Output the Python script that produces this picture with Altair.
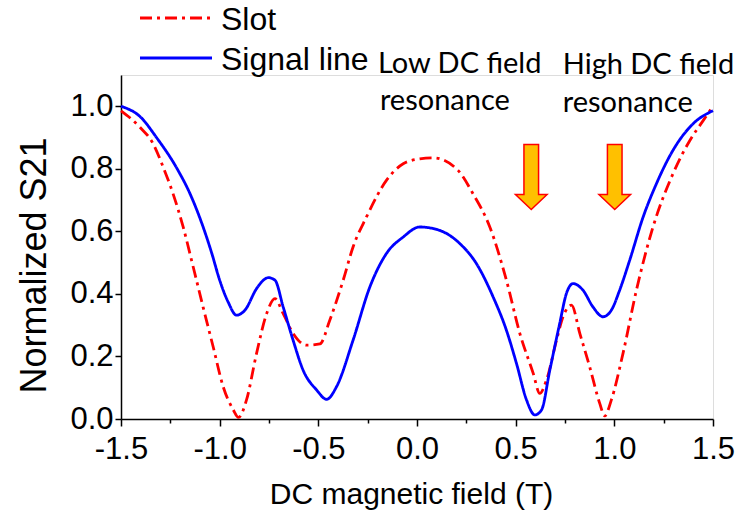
import altair as alt
import pandas as pd

# ---- data ----
slot_x = [-1.5, -1.404, -1.337, -1.286, -1.236, -1.185, -1.134, -1.084, -1.033, -0.982, -0.931, -0.905,
          -0.864, -0.813, -0.762, -0.72, -0.678, -0.628, -0.56, -0.492, -0.442, -0.374, -0.324, -0.256,
          -0.155, -0.07, 0.014, 0.082, 0.208, 0.284, 0.369, 0.453, 0.521, 0.589, 0.622, 0.656, 0.707,
          0.74, 0.783, 0.825, 0.875, 0.926, 0.951, 0.985, 1.044, 1.112, 1.196, 1.297, 1.382, 1.45, 1.5]
slot_y = [0.985, 0.933, 0.88, 0.805, 0.72, 0.614, 0.486, 0.358, 0.231, 0.103, 0.029, 0.005,
          0.061, 0.21, 0.337, 0.385, 0.337, 0.274, 0.236, 0.24, 0.316, 0.444, 0.55, 0.646,
          0.763, 0.816, 0.832, 0.835, 0.795, 0.72, 0.614, 0.444, 0.274, 0.146, 0.082, 0.124, 0.252,
          0.327, 0.364, 0.274, 0.167, 0.05, 0.01, 0.061, 0.21, 0.412, 0.614, 0.784, 0.89, 0.954, 1.0]

sig_x = [-1.5, -1.40, -1.32, -1.22, -1.15, -1.09, -1.04, -1.0, -0.957, -0.915, -0.872, -0.813, -0.77,
         -0.754, -0.72, -0.678, -0.628, -0.577, -0.509, -0.458, -0.408, -0.324, -0.239, -0.155, -0.07,
         0.014, 0.115, 0.217, 0.301, 0.386, 0.453, 0.504, 0.555, 0.597, 0.631, 0.673, 0.723, 0.757,
         0.791, 0.841, 0.892, 0.943, 0.985, 1.027, 1.078, 1.146, 1.213, 1.297, 1.399, 1.5]
sig_y = [1.0, 0.965, 0.90, 0.805, 0.72, 0.625, 0.53, 0.444, 0.374, 0.332, 0.348, 0.417, 0.448,
         0.452, 0.444, 0.358, 0.252, 0.156, 0.093, 0.063, 0.103, 0.252, 0.422, 0.529, 0.582,
         0.614, 0.603, 0.561, 0.497, 0.39, 0.284, 0.178, 0.061, 0.013, 0.029, 0.156, 0.305, 0.401,
         0.433, 0.412, 0.358, 0.327, 0.348, 0.412, 0.508, 0.646, 0.752, 0.859, 0.944, 0.986]

series_names = ["Slot", "Signal line"]
series_colors = ["#ff0000", "#0000ff"]
series_dash = [[12, 5, 3, 5], [1, 0]]

arrow_x = [0.579, 1.002]
arrow_y = [0.774, 0.774]

ann_text = ["Low DC field", "resonance", "High DC field", "resonance"]
ann_x = [-0.198, -0.188, 0.7386, 0.7386]
ann_y = [1.1076, 0.9895, 1.1044, 0.983]

x_ticks = [-1.5 + 0.25 * i for i in range(13)]
y_ticks = [round(0.1 * i, 1) for i in range(12)]

# ---- tables ----
df = pd.concat([
    pd.DataFrame({"B": slot_x, "S21": slot_y, "series": "Slot"}),
    pd.DataFrame({"B": sig_x, "S21": sig_y, "series": "Signal line"}),
], ignore_index=True)
df_arrow = pd.DataFrame({"B": arrow_x, "S21": arrow_y})
df_ann = pd.DataFrame({"B": ann_x, "S21": ann_y, "t": ann_text})

FONT = "Liberation Sans"

x_scale = alt.Scale(domain=[-1.5, 1.5], nice=False, zero=False)
y_scale = alt.Scale(domain=[0, 1.1], nice=False, zero=False)

x_axis = alt.Axis(
    values=x_ticks,
    labelExpr="round(datum.value*4) % 2 == 0 ? (datum.value < 0 ? '-' : '') + format(abs(datum.value), '.1f') : ''",
    tickSize={"condition": {"test": "round(datum.value*4) % 2 == 0", "value": 7}, "value": 4},
    labelFlush=False, labelOverlap=False, labelBound=False,
    labelFont=FONT, labelFontSize=31, labelColor="black", labelPadding=8,
    title="DC magnetic field (T)", titleFont=FONT, titleFontSize=30, titleFontWeight="normal",
    titleColor="black", titleX=290, titleY=84, titleAlign="center", titleBaseline="alphabetic",
    grid=False, domainColor="black", domainWidth=1.5, tickColor="black", tickWidth=1.5,
)
y_axis = alt.Axis(
    values=y_ticks,
    labelExpr="round(datum.value*10) % 2 == 0 ? format(datum.value, '.1f') : ''",
    tickSize={"condition": {"test": "round(datum.value*10) % 2 == 0", "value": 6}, "value": 3.5},
    labelFlush=False, labelOverlap=False, labelBound=False,
    labelFont=FONT, labelFontSize=31, labelColor="black", labelPadding=2,
    title="Normalized S21", titleFont=FONT, titleFontSize=36, titleFontWeight="normal",
    titleColor="black", titleAngle=270, titleX=-76, titleY=190, titleAlign="center",
    titleBaseline="alphabetic",
    grid=False, domainColor="black", domainWidth=1.5, tickColor="black", tickWidth=1.5,
)

lines = alt.Chart(df).mark_line(interpolate="monotone", strokeWidth=2.8).encode(
    x=alt.X("B:Q", scale=x_scale, axis=x_axis),
    y=alt.Y("S21:Q", scale=y_scale, axis=y_axis),
    color=alt.Color("series:N", scale=alt.Scale(domain=series_names, range=series_colors), legend=None),
    strokeDash=alt.StrokeDash("series:N", scale=alt.Scale(domain=series_names, range=series_dash),
                              legend=None),
    order=alt.Order("series:N", sort="descending"),
)

arrow_shape = "M-0.225,-1L0.225,-1L0.225,0.54L0.486,0.54L0,1L-0.486,0.54L-0.225,0.54Z"
arrows = alt.Chart(df_arrow).mark_point(
    shape=arrow_shape, size=4225, filled=True, fill="#FFC000", stroke="#ff0000",
    strokeWidth=1.5, opacity=1, fillOpacity=1,
).encode(x=alt.X("B:Q", scale=x_scale), y=alt.Y("S21:Q", scale=y_scale))

texts = alt.Chart(df_ann).mark_text(
    font="Lato", fontSize=29, align="left", baseline="alphabetic", color="black",
).encode(x=alt.X("B:Q", scale=x_scale), y=alt.Y("S21:Q", scale=y_scale), text="t:N")

# ---- legend (drawn by hand, above the plot area) ----
legend_layers = []
for i, name in enumerate(series_names):
    one = alt.Chart(pd.DataFrame({"series": [name]}))
    legend_layers.append(
        one.mark_rule(color=series_colors[i], strokeDash=series_dash[i], strokeWidth=2.8).encode(
            x=alt.value(19), x2=alt.value(91), y=alt.value(-57 + 40 * i))
    )
    legend_layers.append(
        one.mark_text(font=FONT, fontSize=32, align="left", baseline="middle", color="black").encode(
            x=alt.value(100), y=alt.value(-55 + 40 * i), text="series:N")
    )

chart = alt.layer(lines, arrows, texts, *legend_layers).properties(
    width=592, height=344,
    autosize=alt.AutoSizeParams(type="none"),
    padding={"left": 121, "top": 75, "right": 25, "bottom": 97},
).configure_view(stroke=None).configure(background="white")

chart.save("out.html", embed_options={"renderer": "svg", "actions": False})
